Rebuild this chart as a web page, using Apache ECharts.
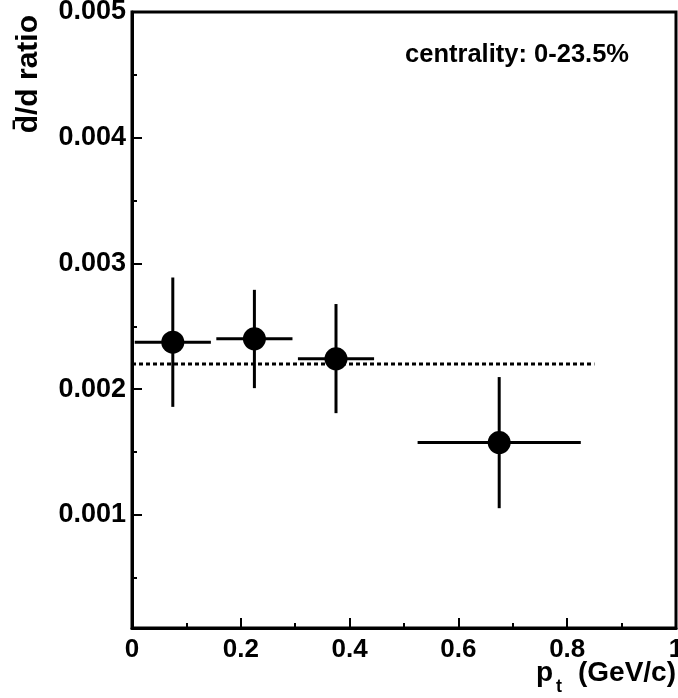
<!DOCTYPE html>
<html><head><meta charset="utf-8">
<script src="https://cdn.jsdelivr.net/npm/echarts@6/dist/echarts.min.js"></script>
<style>html,body{margin:0;padding:0;background:#fff}#c{width:678px;height:698px}</style>
</head><body><div id="c"></div>
<script>
// ---- data ----
const ptCenters = [0.075, 0.225, 0.375, 0.675];
const ptHalfWidths = [0.07, 0.07, 0.07, 0.15];
const ratioValues = [0.002374, 0.00240, 0.002241, 0.001575];
const ratioLow = [0.001859, 0.002008, 0.001809, 0.001053];
const ratioHigh = [0.002888, 0.002790, 0.002677, 0.002096];
const refLevel = 0.0022;
const refRange = [0, 0.85];
const xTickValues = [0, 0.2, 0.4, 0.6, 0.8, 1];
const yMajorTicks = [0.001, 0.002, 0.003, 0.004, 0.005];
const yMinorTicks = [0.0005, 0.0015, 0.0025, 0.0035, 0.0045];
const yLabel = 'd\u0304/d ratio';
const xLabelMain = 'p';
const xLabelSub = 't';
const xLabelUnit = ' (GeV/c)';
const annotation = 'centrality: 0-23.5%';

const FONT = '"Liberation Sans", Arial, Helvetica, sans-serif';

const points = ptCenters.map((x, i) => [x, ratioValues[i]]);
const errData = ptCenters.map((x, i) => [x, ratioValues[i], x - ptHalfWidths[i], x + ptHalfWidths[i], ratioLow[i], ratioHigh[i]]);
const refData = [[refRange[0], refLevel], [refRange[1], refLevel]];

const chart = echarts.init(document.getElementById('c'), null, {renderer: 'canvas'});
chart.setOption({
  backgroundColor: '#fff',
  animation: false,
  grid: {left: 132, top: 12, width: 544, height: 616, containLabel: false, outerBoundsMode: 'none',
    show: true, borderColor: '#000', borderWidth: 3, backgroundColor: 'transparent'},
  xAxis: {
    type: 'value', min: 0, max: 1, interval: 0.2,
    axisLine: {show: true, onZero: false, lineStyle: {color: '#000', width: 3}},
    axisTick: {show: true, inside: true, length: 10, lineStyle: {color: '#000', width: 2}},
    minorTick: {show: true, splitNumber: 2, length: 5, lineStyle: {color: '#000', width: 2}},
    splitLine: {show: false},
    axisLabel: {margin: 9, color: '#000', fontSize: 26, fontWeight: 'bold', fontFamily: FONT,
      formatter: v => String(Number(v.toFixed(1)))}
  },
  yAxis: [{
    type: 'value', min: 0.0001, max: 0.005,
    axisLine: {show: true, onZero: false, lineStyle: {color: '#000', width: 3}},
    axisTick: {show: true, inside: true, length: 10, customValues: yMajorTicks, lineStyle: {color: '#000', width: 2}},
    splitLine: {show: false},
    axisLabel: {margin: 6, color: '#000', fontSize: 27, fontWeight: 'bold', fontFamily: FONT,
      customValues: yMajorTicks, formatter: v => v.toFixed(3)}
  }, {
    type: 'value', min: 0.0001, max: 0.005, position: 'left', offset: 0,
    axisLine: {show: false},
    axisTick: {show: true, inside: true, length: 5, customValues: yMinorTicks, lineStyle: {color: '#000', width: 2}},
    splitLine: {show: false},
    axisLabel: {show: false, customValues: yMinorTicks}
  }],
  series: [{
    type: 'line', data: refData, showSymbol: false, symbol: 'none', z: 2,
    lineStyle: {color: '#000', width: 3, type: [4, 3]}
  }, {
    type: 'custom', data: errData, z: 3,
    renderItem: (params, api) => {
      const c = api.coord([api.value(0), api.value(1)]);
      const l = api.coord([api.value(2), api.value(1)]);
      const r = api.coord([api.value(3), api.value(1)]);
      const lo = api.coord([api.value(0), api.value(4)]);
      const hi = api.coord([api.value(0), api.value(5)]);
      const st = {stroke: '#000', lineWidth: 3};
      return {type: 'group', children: [
        {type: 'line', shape: {x1: l[0], y1: c[1], x2: r[0], y2: c[1]}, style: st},
        {type: 'line', shape: {x1: c[0], y1: lo[1], x2: c[0], y2: hi[1]}, style: st}
      ]};
    }
  }, {
    type: 'scatter', data: points, symbol: 'circle', symbolSize: 23, z: 4,
    itemStyle: {color: '#000', opacity: 1}
  }],
  graphic: [
    {type: 'text', x: 629, y: 55, style: {text: annotation, fill: '#000', font: 'bold 25.5px ' + FONT, textAlign: 'right', textVerticalAlign: 'middle'}},
    {type: 'text', x: 44, y: 15, rotation: Math.PI / 2, style: {text: yLabel, fill: '#000', font: 'bold 30px ' + FONT, textAlign: 'right', textVerticalAlign: 'bottom'}},
    {type: 'text', x: 536, y: 673, style: {text: xLabelMain, fill: '#000', font: 'bold 28px ' + FONT, textAlign: 'left', textVerticalAlign: 'middle'}},
    {type: 'text', x: 556, y: 687, style: {text: xLabelSub, fill: '#000', font: 'bold 18px ' + FONT, textAlign: 'left', textVerticalAlign: 'middle'}},
    {type: 'text', x: 676, y: 673, style: {text: xLabelUnit, fill: '#000', font: 'bold 28px ' + FONT, textAlign: 'right', textVerticalAlign: 'middle'}}
  ]
});
</script></body></html>
